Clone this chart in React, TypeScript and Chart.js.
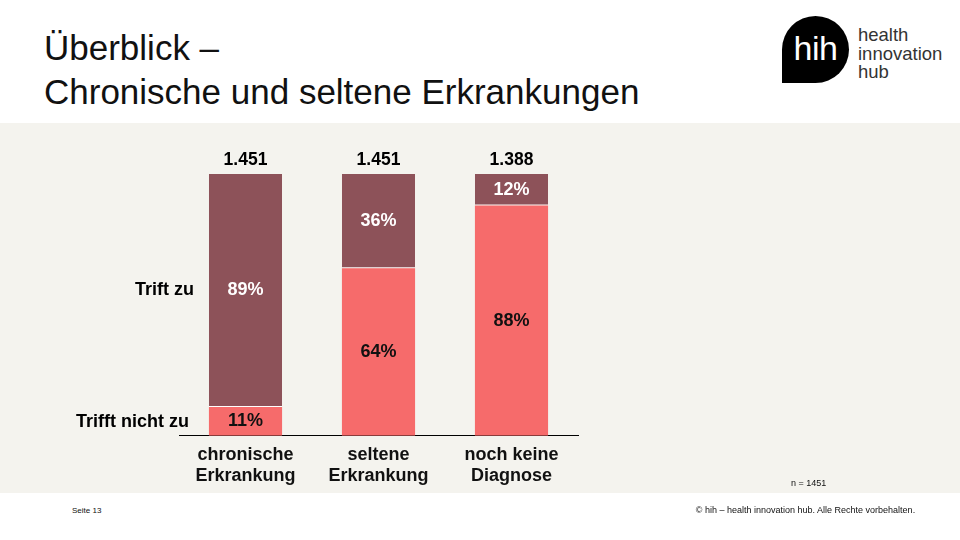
import React, { useEffect, useRef } from "react";
import { Chart, registerables } from "chart.js";

Chart.register(...registerables);

const categories: string[][] = [
  ["chronische", "Erkrankung"],
  ["seltene", "Erkrankung"],
  ["noch keine", "Diagnose"],
];
const seriesNames = ["Trifft nicht zu", "Trift zu"];
const trifftNichtZu = [11, 64, 88];
const triftZu = [89, 36, 12];
const totals = ["1.451", "1.451", "1.388"];

const FONT = "'Liberation Sans', Arial, Helvetica, sans-serif";
const DARK = "#8D5259";
const SALMON = "#F66B6B";

const labelPlugin = {
  id: "barLabels",
  afterDatasetsDraw(chart: any) {
    const ctx = chart.ctx;
    ctx.save();
    ctx.font = `bold 18px ${FONT}`;
    ctx.textAlign = "center";
    ctx.textBaseline = "middle";
    chart.data.datasets.forEach((ds: any, di: number) => {
      const meta = chart.getDatasetMeta(di);
      meta.data.forEach((bar: any, i: number) => {
        const p = bar.getProps(["x", "y", "base"], true);
        ctx.fillStyle = di === 0 ? "#111111" : "#ffffff";
        ctx.fillText(ds.data[i] + "%", p.x, (p.y + p.base) / 2);
      });
    });
    ctx.font = `bold 17.5px ${FONT}`;
    const topMeta = chart.getDatasetMeta(1);
    topMeta.data.forEach((bar: any, i: number) => {
      const p = bar.getProps(["x", "y", "width"], true);
      ctx.fillStyle = "#000000";
      ctx.fillText(totals[i], p.x, p.y - 14);
    });
    ctx.font = `bold 18px ${FONT}`;
    ctx.textAlign = "right";
    ctx.fillStyle = "#000000";
    const b1 = chart.getDatasetMeta(1).data[0].getProps(["x", "y", "base", "width"], true);
    ctx.fillText(seriesNames[1], b1.x - b1.width / 2 - 15, (b1.y + b1.base) / 2);
    const b0 = chart.getDatasetMeta(0).data[0].getProps(["x", "y", "base", "width"], true);
    ctx.fillText(seriesNames[0], b0.x - b0.width / 2 - 20, (b0.y + b0.base) / 2 + 1);
    ctx.restore();
  },
};

export default function App() {
  const canvasRef = useRef<HTMLCanvasElement | null>(null);

  useEffect(() => {
    if (!canvasRef.current) return;
    const chart = new Chart(canvasRef.current, {
      type: "bar",
      data: {
        labels: categories,
        datasets: [
          {
            label: seriesNames[0],
            data: trifftNichtZu,
            backgroundColor: SALMON,
            borderWidth: 0,
            barPercentage: 0.55,
            categoryPercentage: 1,
          },
          {
            label: seriesNames[1],
            data: triftZu,
            backgroundColor: DARK,
            borderColor: "#ffffff",
            borderWidth: { bottom: 1, top: 0, left: 0, right: 0 },
            borderSkipped: false,
            barPercentage: 0.55,
            categoryPercentage: 1,
          },
        ],
      },
      options: {
        responsive: false,
        maintainAspectRatio: false,
        animation: false,
        layout: { padding: { left: 179, right: 382, top: 51, bottom: 0 } },
        plugins: {
          legend: { display: false },
          tooltip: { enabled: false },
        },
        scales: {
          x: {
            stacked: true,
            grid: { display: false, drawTicks: false },
            border: { display: true, color: "#000000", width: 1 },
            ticks: {
              color: "#111111",
              padding: 8,
              font: { family: FONT, size: 18, weight: "bold" },
              maxRotation: 0,
            },
          },
          y: {
            stacked: true,
            display: false,
            min: 0,
            max: 100,
          },
        },
      },
      plugins: [labelPlugin],
    });
    return () => chart.destroy();
  }, []);

  return (
    <div
      style={{
        position: "fixed",
        left: 0,
        top: 0,
        width: 960,
        height: 540,
        background: "#ffffff",
        fontFamily: FONT,
        overflow: "hidden",
      }}
    >
      <div
        style={{
          position: "absolute",
          left: 44,
          top: 26,
          fontSize: 35,
          lineHeight: "44px",
          color: "#111111",
          whiteSpace: "nowrap",
        }}
      >
        <div>Überblick –</div>
        <div>Chronische und seltene Erkrankungen</div>
      </div>

      <div
        style={{
          position: "absolute",
          left: 782,
          top: 16,
          width: 67,
          height: 67,
          background: "#000000",
          borderRadius: "50% 50% 50% 0",
          color: "#ffffff",
          fontSize: 34,
          lineHeight: "64px",
          textAlign: "center",
          letterSpacing: "-0.5px",
        }}
      >
        hih
      </div>
      <div
        style={{
          position: "absolute",
          left: 858,
          top: 26,
          fontSize: 18.5,
          lineHeight: "18.5px",
          color: "#333333",
        }}
      >
        <div>health</div>
        <div>innovation</div>
        <div>hub</div>
      </div>

      <div
        style={{
          position: "absolute",
          left: 0,
          top: 123,
          width: 960,
          height: 370,
          background: "#F4F3EE",
        }}
      >
        <canvas
          ref={canvasRef}
          width={960}
          height={372}
          style={{ display: "block", position: "absolute", left: 0, top: 0 }}
        />
        <div
          style={{
            position: "absolute",
            left: 791,
            top: 355,
            fontSize: 9,
            color: "#111111",
            whiteSpace: "nowrap",
          }}
        >
          n = 1451
        </div>
      </div>

      <div
        style={{
          position: "absolute",
          left: 72,
          top: 506,
          fontSize: 8,
          color: "#111111",
        }}
      >
        Seite 13
      </div>
      <div
        style={{
          position: "absolute",
          left: 693,
          top: 505,
          width: 225,
          fontSize: 9,
          color: "#111111",
          whiteSpace: "nowrap",
          textAlign: "center",
        }}
      >
        © hih – health innovation hub. Alle Rechte vorbehalten.
      </div>
    </div>
  );
}
